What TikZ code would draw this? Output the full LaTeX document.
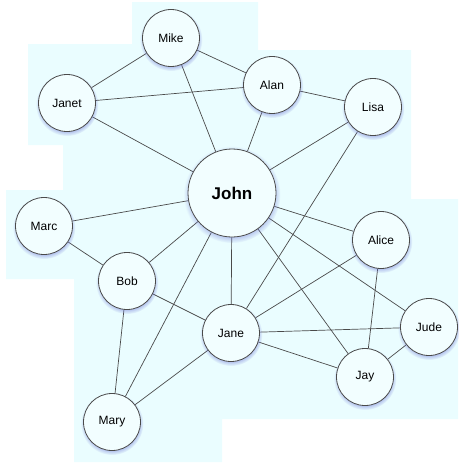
\documentclass[tikz,border=0pt]{standalone}
\usepackage{fontspec}
\setmainfont{Liberation Sans}
\usetikzlibrary{shadows, fadings}
\definecolor{cback}{RGB}{234,253,255}
\definecolor{cnode}{RGB}{242,254,255}
\definecolor{cline}{HTML}{4A4A4A}
\definecolor{cglow}{RGB}{110,120,215}
\pgfdeclarelayer{back}
\pgfdeclarelayer{edges}
\pgfsetlayers{back,edges,main}
\tikzset{
  every picture/.style={x=1pt, y=-1pt},
  person/.style={circle, draw=cline, line width=0.8pt, fill=cnode, minimum size=57pt, inner sep=0pt,
    font=\fontsize{12}{14}\selectfont,
    circular drop shadow={shadow scale=1.1, shadow xshift=0pt, shadow yshift=-1.5pt, fill=cglow, opacity=0.45}},
  hub/.style={person, minimum size=88pt, font=\fontsize{17}{20}\selectfont\bfseries},
  edge/.style={draw=cline, line width=0.7pt},
}
\begin{document}
\begin{tikzpicture}
  \useasboundingbox (0,0) rectangle (458,463);
  % people
  \node[hub] (john) at (232,193) {John};
  \node[person] (mike) at (171,38) {Mike};
  \node[person] (janet) at (67,103) {Janet};
  \node[person] (alan) at (272,85) {Alan};
  \node[person] (lisa) at (373,107) {Lisa};
  \node[person] (marc) at (44,226) {Marc};
  \node[person] (bob) at (127,281) {Bob};
  \node[person] (jane) at (231,333) {Jane};
  \node[person] (alice) at (381,240) {Alice};
  \node[person] (jude) at (429,327) {Jude};
  \node[person] (jay) at (365,377) {Jay};
  \node[person] (mary) at (112,422) {Mary};
  % links
  \begin{pgfonlayer}{edges}
    \foreach \a/\b in {mike/janet, mike/alan, mike/john, janet/alan, janet/john,
                       alan/lisa, alan/john, lisa/john, lisa/jane, john/marc,
                       john/bob, john/mary, john/jane, john/alice, john/jude,
                       john/jay, marc/bob, bob/jane, bob/mary, mary/jane,
                       jane/alice, jane/jude, jane/jay, alice/jay, jude/jay}
      \draw[edge] (\a) -- (\b);
  \end{pgfonlayer}
  % backdrop
  \begin{pgfonlayer}{back}
    \fill[cback] (132,2) -- (258,2) -- (258,50) -- (411,50) -- (411,199) -- (458,199)
      -- (458,419) -- (222,419) -- (222,462) -- (74,462) -- (74,279) -- (6,279)
      -- (6,190) -- (63,190) -- (63,145) -- (28,145) -- (28,44) -- (132,44) -- cycle;
  \end{pgfonlayer}
\end{tikzpicture}
\end{document}
